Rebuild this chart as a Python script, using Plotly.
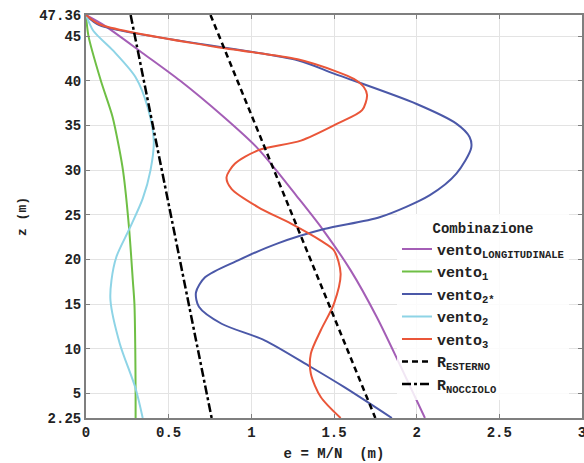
import plotly.graph_objects as go

# --- data (x = e [m], z [m]) ---
z_long = [47.36, 46.2, 43.0, 40.0, 36.0, 32.6, 30.0, 27.2, 23.4, 18.8, 13.5, 8.15, 2.25]
e_long = [0.0, 0.11, 0.35, 0.57, 0.83, 1.03, 1.15, 1.27, 1.43, 1.60, 1.76, 1.90, 2.05]

z_v1 = [47.36, 45.0, 40.0, 36.0, 32.5, 29.8, 23.6, 17.7, 15.0, 10.0, 5.0, 2.25]
e_v1 = [0.0, 0.015, 0.09, 0.16, 0.20, 0.225, 0.26, 0.283, 0.293, 0.298, 0.30, 0.30]

z_v2s = [47.36, 46.2, 42.3, 40.8, 37.4, 35.2, 33.7, 32.5, 29.6, 27.2, 24.75, 23.4, 21.8,
         19.9, 18.0, 16.3, 14.7, 12.8, 10.95, 7.96, 5.73, 2.25]
e_v2s = [0.0, 0.084, 1.28, 1.50, 2.0, 2.24, 2.32, 2.33, 2.24, 2.08, 1.78, 1.44, 1.16,
         0.92, 0.72, 0.665, 0.683, 0.82, 1.08, 1.36, 1.56, 1.85]

z_v2 = [47.36, 45.6, 43.4, 40.4, 37.05, 33.3, 29.97, 26.8, 23.44, 20.3, 17.66, 15.4,
        10.6, 5.55, 2.25]
e_v2 = [0.0, 0.044, 0.163, 0.30, 0.373, 0.41, 0.39, 0.343, 0.263, 0.184, 0.154, 0.148,
        0.204, 0.30, 0.343]

z_v3 = [47.36, 46.3, 43.8, 42.4, 41.0, 40.2, 39.3, 38.4, 36.7, 35.2, 33.3, 32.2, 30.7,
        29.2, 27.9, 25.86, 24.0, 22.1, 21.0, 18.4, 15.06, 12.07, 9.46, 7.2, 4.6, 2.25]
e_v3 = [0.0, 0.084, 0.78, 1.28, 1.52, 1.62, 1.68, 1.70, 1.67, 1.52, 1.30, 1.04, 0.90,
        0.85, 0.88, 1.04, 1.24, 1.42, 1.50, 1.54, 1.50, 1.42, 1.36, 1.36, 1.42, 1.54]

z_rest = [47.36, 2.25]
e_rest = [0.753, 1.75]

z_rnoc = [47.36, 2.25]
e_rnoc = [0.27, 0.76]

y_ticks = [2.25, 5, 10, 15, 20, 25, 30, 35, 40, 45, 47.36]
y_ticklabels = ["2.25", "5", "10", "15", "20", "25", "30", "35", "40", "45", "47.36"]
x_ticks = [0, 0.5, 1, 1.5, 2, 2.5, 3]
x_ticklabels = ["0", "0.5", "1", "1.5", "2", "2.5", "3"]

MONO = "Liberation Mono"

fig = go.Figure()
series = [
    ("vento<sub>LONGITUDINALE</sub>", e_long, z_long, "#A45EB6", "solid", 2),
    ("vento<sub>1</sub>", e_v1, z_v1, "#6FBF45", "solid", 2),
    ("vento<sub>2*</sub>", e_v2s, z_v2s, "#4B58A8", "solid", 2),
    ("vento<sub>2</sub>", e_v2, z_v2, "#8ED4E6", "solid", 2),
    ("vento<sub>3</sub>", e_v3, z_v3, "#EA5639", "solid", 2),
    ("R<sub>ESTERNO</sub>", e_rest, z_rest, "#000000", "6px,4px", 2.5),
    ("R<sub>NOCCIOLO</sub>", e_rnoc, z_rnoc, "#000000", "dashdot", 2.5),
]
for name, x, y, col, dash, w in series:
    fig.add_trace(go.Scatter(x=x, y=y, mode="lines", name=name,
                             line=dict(color=col, width=w, dash=dash, shape="spline",
                                       smoothing=0.8)))

axis_common = dict(
    showline=True, linecolor="#7f7f7f", linewidth=2, mirror="ticks",
    ticks="inside", ticklen=4, tickcolor="#7f7f7f",
    showgrid=True, gridcolor="#e3e3e3", gridwidth=1, zeroline=False,
    ticklabeloverflow="allow",
    tickfont=dict(family=MONO, size=14, color="#222222", weight="bold"),
)

fig.update_layout(
    width=584, height=463,
    margin=dict(l=86, r=0, t=15, b=45),
    paper_bgcolor="white", plot_bgcolor="white",
    xaxis=dict(range=[0, 3], tickvals=x_ticks, ticktext=x_ticklabels,
               automargin=False,
               title=dict(text="e = M/N  (m)", standoff=8,
                          font=dict(family=MONO, size=14, color="#222222", weight="bold")),
               **axis_common),
    yaxis=dict(range=[2.25, 47.36], tickvals=y_ticks, ticktext=y_ticklabels,
               automargin=True,
               title=dict(text="z (m)", standoff=10,
                          font=dict(family=MONO, size=13, color="#222222", weight="bold")),
               **axis_common),
    legend=dict(x=0.627, y=0.505, xanchor="left", yanchor="top",
                bgcolor="rgba(255,255,255,0.85)", borderwidth=0,
                font=dict(family=MONO, size=15, color="#222222", weight="bold"),
                title=dict(text="Combinazione", side="top center",
                           font=dict(family=MONO, size=14, color="#222222", weight="bold")),
                itemwidth=30, tracegroupgap=0),
    showlegend=True,
)

fig.write_html("out.html",
               config={"displayModeBar": False},
               post_script="document.body.style.margin='0';"
                           "document.body.style.overflow='hidden';")
